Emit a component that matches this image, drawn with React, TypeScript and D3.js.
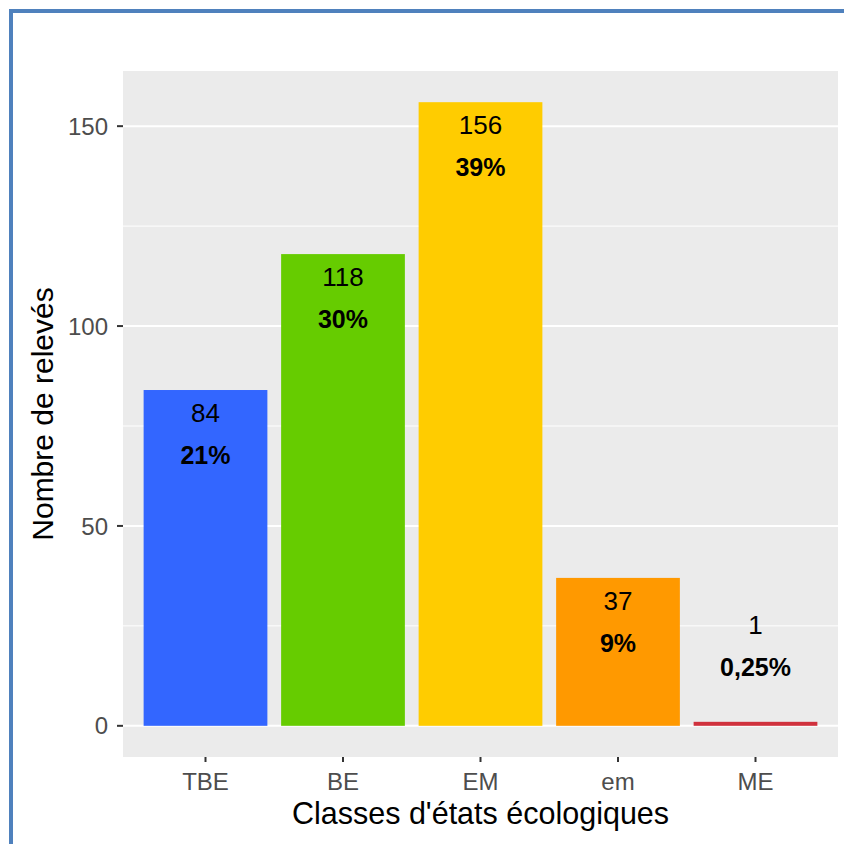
import React from "react";
import * as d3 from "d3";

const categories = ["TBE", "BE", "EM", "em", "ME"];
const counts = [84, 118, 156, 37, 1];
const percents = ["21%", "30%", "39%", "9%", "0,25%"];
const labelAnchors = [84, 118, 156, 37, 31];
const colors = ["#3366FF", "#66CC00", "#FFCC00", "#FF9900", "#D0313D"];
const yTicks = [0, 50, 100, 150];
const yMinor = [25, 75, 125];

const W = 844;
const H = 844;
const panel = { left: 123, right: 838, top: 71, bottom: 757 };

export default function App() {
  const maxV = d3.max(counts) as number;
  const expand = maxV * 0.05;
  const y = d3
    .scaleLinear()
    .domain([-expand, maxV + expand])
    .range([panel.bottom, panel.top]);
  const x = d3
    .scaleBand<string>()
    .domain(categories)
    .range([panel.left, panel.right])
    .paddingInner(0.1)
    .paddingOuter(0.15);

  const font = "'Liberation Sans', Arial, sans-serif";

  return (
    <svg
      width={W}
      height={H}
      style={{ position: "absolute", left: 0, top: 0, background: "#fff" }}
      fontFamily={font}
    >
      <rect x={0} y={0} width={W} height={H} fill="#fff" />
      {/* frame */}
      <rect x={9} y={9} width={4} height={H - 9} fill="#4F81BD" />
      <rect x={9} y={9} width={W - 9} height={4} fill="#4F81BD" />
      {/* panel */}
      <rect
        x={panel.left}
        y={panel.top}
        width={panel.right - panel.left}
        height={panel.bottom - panel.top}
        fill="#EBEBEB"
      />
      {yMinor.map((v) => (
        <line
          key={"mn" + v}
          x1={panel.left}
          x2={panel.right}
          y1={y(v)}
          y2={y(v)}
          stroke="#fff"
          strokeWidth={1}
        />
      ))}
      {yTicks.map((v) => (
        <line
          key={"mj" + v}
          x1={panel.left}
          x2={panel.right}
          y1={y(v)}
          y2={y(v)}
          stroke="#fff"
          strokeWidth={2}
        />
      ))}
      {/* bars */}
      {categories.map((c, i) => (
        <rect
          key={c}
          x={x(c)}
          y={y(counts[i])}
          width={x.bandwidth()}
          height={y(0) - y(counts[i])}
          fill={colors[i]}
        />
      ))}
      {/* labels */}
      {categories.map((c, i) => {
        const cx = (x(c) as number) + x.bandwidth() / 2;
        const top = y(labelAnchors[i]);
        return (
          <g key={"l" + c}>
            <text x={cx} y={top + 32} textAnchor="middle" fontSize={26} fill="#000">
              {counts[i]}
            </text>
            <text
              x={cx}
              y={top + 74}
              textAnchor="middle"
              fontSize={25}
              fontWeight="bold"
              fill="#000"
            >
              {percents[i]}
            </text>
          </g>
        );
      })}
      {/* y axis */}
      {yTicks.map((v) => (
        <g key={"yt" + v}>
          <line
            x1={panel.left - 6}
            x2={panel.left}
            y1={y(v)}
            y2={y(v)}
            stroke="#333"
            strokeWidth={2}
          />
          <text
            x={panel.left - 15}
            y={y(v)}
            dy="0.36em"
            textAnchor="end"
            fontSize={24}
            fill="#4D4D4D"
          >
            {v}
          </text>
        </g>
      ))}
      {/* x axis */}
      {categories.map((c) => {
        const cx = (x(c) as number) + x.bandwidth() / 2;
        return (
          <g key={"xt" + c}>
            <line
              x1={cx}
              x2={cx}
              y1={panel.bottom}
              y2={panel.bottom + 5}
              stroke="#333"
              strokeWidth={2}
            />
            <text x={cx} y={790} textAnchor="middle" fontSize={24} fill="#4D4D4D">
              {c}
            </text>
          </g>
        );
      })}
      <text
        x={(panel.left + panel.right) / 2}
        y={824}
        textAnchor="middle"
        fontSize={30.5}
        fill="#000"
      >
        Classes d'états écologiques
      </text>
      <text
        transform={`translate(53, ${(panel.top + panel.bottom) / 2}) rotate(-90)`}
        textAnchor="middle"
        fontSize={30}
        fill="#000"
      >
        Nombre de relevés
      </text>
    </svg>
  );
}
